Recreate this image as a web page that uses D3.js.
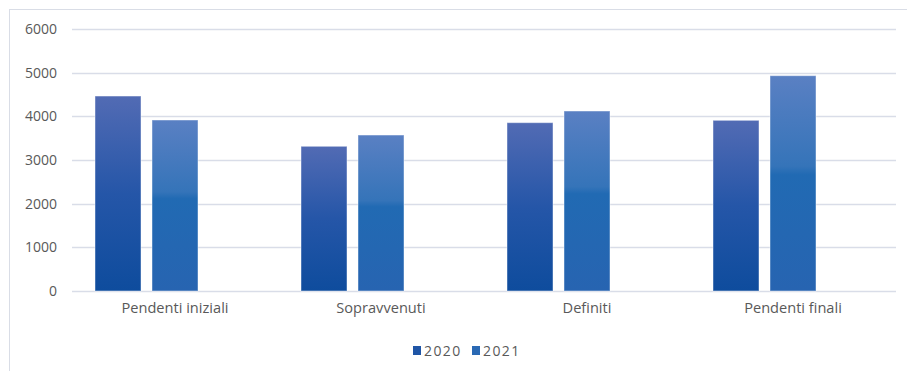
<!DOCTYPE html>
<html><head><meta charset="utf-8">
<script src="https://cdn.jsdelivr.net/npm/d3@7"></script>
<style>
body{margin:0;background:#fff;}
text{font-family:"Open Sans","Liberation Sans",sans-serif;fill:#595959;}
</style></head>
<body><svg id="c" width="907" height="371"></svg>
<script>
const categories = ["Pendenti iniziali","Sopravvenuti","Definiti","Pendenti finali"];
const seriesNames = ["2020","2021"];
const values2020 = [4465, 3314, 3855, 3909];
const values2021 = [3916, 3572, 4122, 4931];
const yTicks = [0,1000,2000,3000,4000,5000,6000];

const svg = d3.select("#c");
const W = 907, H = 371;
const x0 = 72, x1 = 896, yTop = 29, yBot = 291;
const FONT = "'Open Sans','Liberation Sans',sans-serif";

// outer frame
svg.append("rect").attr("x",9.5).attr("y",9.5).attr("width",W+10).attr("height",H+10)
  .attr("fill","none").attr("stroke","#d9dde6").attr("stroke-width",1);

const x = d3.scaleBand().domain(categories).range([x0,x1]).paddingInner(0).paddingOuter(0);
// three slots per category (third unused), like the source
const xs = d3.scaleBand().domain(["2020","2021","_"]).range([0,x.bandwidth()]).paddingInner(0.193).paddingOuter(0.4035);
const y = d3.scaleLinear().domain([0,6000]).range([yBot,yTop]);

const defs = svg.append("defs");
const g1 = defs.append("linearGradient").attr("id","g2020").attr("x1",0).attr("y1",0).attr("x2",0).attr("y2",1);
[[0,"#526bb4"],[0.5,"#2556a8"],[1,"#0e4c9d"]].forEach(s=>g1.append("stop").attr("offset",s[0]).attr("stop-color",s[1]));
const g2 = defs.append("linearGradient").attr("id","g2021").attr("x1",0).attr("y1",0).attr("x2",0).attr("y2",1);
[[0,"#5a80c3"],[0.42,"#3574b9"],[0.46,"#216ab3"],[1,"#2764b1"]].forEach(s=>g2.append("stop").attr("offset",s[0]).attr("stop-color",s[1]));

// gridlines
svg.append("g").selectAll("line").data(yTicks).join("line")
  .attr("x1",x0).attr("x2",x1).attr("y1",d=>Math.round(y(d))+0.5).attr("y2",d=>Math.round(y(d))+0.5)
  .attr("stroke","#d9dde8").attr("stroke-width",1.3);

// y axis labels
const ya = svg.append("g").attr("transform",`translate(${x0-15},0)`).call(d3.axisLeft(y).tickValues(yTicks).tickSize(0).tickPadding(0).tickFormat(d3.format("d")));
ya.select(".domain").remove();
ya.selectAll("text").style("font-size","14px").attr("fill","#595959").style("font-family",FONT);

// bars
const data = [values2020, values2021];
seriesNames.forEach((s,i)=>{
  svg.append("g").selectAll("rect").data(categories).join("rect")
    .attr("x",c=>x(c)+xs(s))
    .attr("width",xs.bandwidth())
    .attr("y",(c,j)=>y(data[i][j]))
    .attr("height",(c,j)=>yBot - y(data[i][j]))
    .attr("fill",`url(#g${s})`)
    .attr("stroke","#ffffff").attr("stroke-opacity",0.45).attr("stroke-width",1);
});

// x axis labels
const xa = svg.append("g").attr("transform",`translate(0,${yBot})`).call(d3.axisBottom(x).tickSize(0).tickPadding(12));
xa.select(".domain").remove();
xa.selectAll("text").style("font-size","14.6px").attr("fill","#595959").style("font-family",FONT);

// legend
const legendItems = [{name:"2020",fill:"#1f55a6"},{name:"2021",fill:"#2a69b4"}];
const lx = [413, 472];
const lg = svg.append("g");
legendItems.forEach((d,i)=>{
  lg.append("rect").attr("x",lx[i]).attr("y",346).attr("width",8).attr("height",9).attr("fill",d.fill);
  lg.append("text").attr("x",lx[i]+11).attr("y",355.5).style("font-size","14px").style("letter-spacing","1.4px").text(d.name);
});
</script></body></html>
